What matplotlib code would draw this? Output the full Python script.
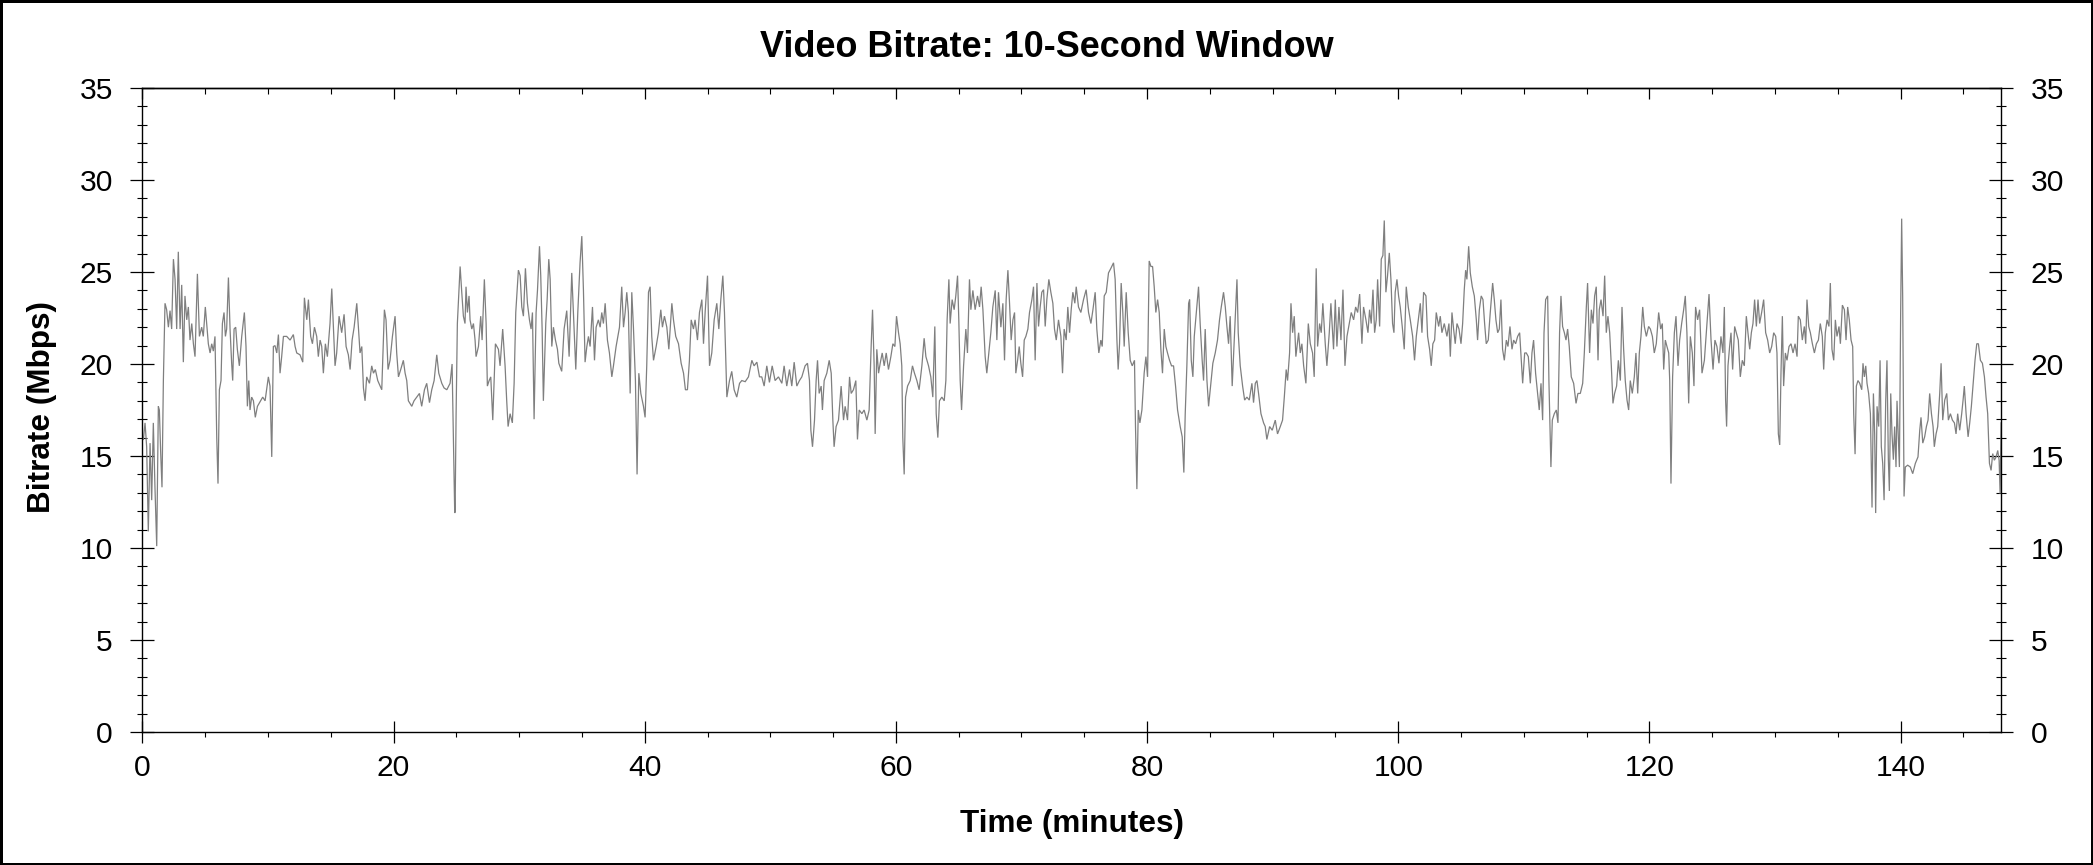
import numpy as np
import matplotlib
matplotlib.use("Agg")
import matplotlib.pyplot as plt
from matplotlib.ticker import MultipleLocator

# ---- data (time in minutes, bitrate in Mbps) ----
seg1_time = [0.08, 0.21, 0.34, 0.47, 0.61, 0.74, 0.87, 1.00, 1.14, 1.27, 1.35, 1.46, 1.56, 1.67, 1.80,
             1.93, 2.07, 2.20, 2.33, 2.47, 2.60, 2.73, 2.86, 3.00, 3.13, 3.26, 3.39, 3.53, 3.66, 3.79,
             3.93, 4.06, 4.19, 4.38, 4.54, 4.72, 4.85, 5.01, 5.25, 5.39, 5.52, 5.65, 5.78, 5.92, 6.02,
             6.13, 6.26, 6.37, 6.50, 6.61, 6.71, 6.85, 6.98, 7.11, 7.19, 7.30, 7.43, 7.56, 7.72, 7.91,
             8.12, 8.25, 8.36, 8.47, 8.57, 8.70, 8.84, 8.99, 9.16, 9.37, 9.58, 9.77, 10.03, 10.16, 10.30,
             10.43, 10.56, 10.70, 10.83, 10.96, 11.09, 11.23, 11.49, 11.76, 12.02, 12.16, 12.29, 12.55, 12.77, 12.90,
             13.09, 13.22, 13.40, 13.54, 13.70, 13.88, 14.01, 14.15, 14.28, 14.41, 14.57, 14.73, 14.94, 15.08, 15.21,
             15.34, 15.47, 15.66, 15.87, 16.06, 16.22, 16.40, 16.54, 16.70, 16.86, 17.07, 17.20, 17.33, 17.47, 17.60,
             17.73, 17.86, 18.08, 18.26, 18.40, 18.55, 18.74, 18.93, 19.06, 19.27, 19.40, 19.56, 19.72, 19.91, 20.12,
             20.25, 20.39, 20.57, 20.78, 20.92, 21.05, 21.18, 21.45, 21.63, 21.85, 22.06, 22.24, 22.46, 22.64, 22.86,
             23.04, 23.23, 23.44, 23.60, 23.84, 24.02, 24.24, 24.50, 24.66, 24.79, 24.87]
seg1_rate = [15.9, 16.8, 15.5, 10.9, 15.7, 12.6, 16.8, 13.3, 10.1, 17.7, 17.5, 15.1, 13.3, 19.1, 23.3,
             22.95, 22.0, 22.9, 21.9, 25.7, 24.6, 21.9, 26.1, 21.9, 24.3, 20.1, 23.7, 22.4, 23.1, 21.3,
             22.2, 21.1, 20.4, 24.9, 21.5, 22.0, 21.5, 23.1, 21.1, 20.6, 21.1, 20.7, 21.5, 16.0, 13.5,
             18.6, 19.1, 22.2, 22.8, 21.5, 21.9, 24.7, 21.9, 20.0, 19.1, 21.9, 22.0, 20.8, 19.9, 21.5,
             22.8, 20.95, 17.7, 19.1, 17.5, 18.2, 18.0, 17.1, 17.7, 17.95, 18.2, 18.0, 19.3, 18.8, 14.95,
             20.95, 21.0, 20.6, 21.6, 19.5, 20.4, 21.5, 21.5, 21.3, 21.6, 20.95, 20.6, 20.5, 20.1, 23.6,
             22.4, 23.5, 21.5, 21.1, 22.0, 21.5, 20.4, 21.3, 20.95, 19.5, 21.1, 20.4, 22.2, 24.1, 22.0,
             19.9, 20.6, 22.6, 21.7, 22.7, 20.95, 20.5, 19.7, 21.3, 22.0, 23.3, 22.0, 20.6, 20.95, 18.7,
             18.0, 19.3, 18.95, 19.9, 19.5, 19.7, 19.1, 18.8, 18.6, 22.95, 22.4, 19.7, 20.2, 21.5, 22.6,
             20.6, 19.3, 19.7, 20.2, 19.5, 19.1, 18.0, 17.7, 18.0, 18.2, 18.4, 17.7, 18.6, 18.95, 17.9,
             18.6, 19.1, 20.5, 19.5, 18.95, 18.7, 18.6, 18.95, 20.0, 14.95, 11.9]

seg2_time = [24.90, 24.98, 25.08, 25.30, 25.43, 25.56, 25.69, 25.77, 25.88, 26.01, 26.09, 26.23, 26.36, 26.49, 26.57,
             26.76, 26.94, 27.05, 27.23, 27.37, 27.47, 27.61, 27.74, 27.90, 28.11, 28.35, 28.48, 28.69, 28.88, 29.01,
             29.12, 29.28, 29.46, 29.60, 29.73, 29.94, 30.08, 30.21, 30.34, 30.50, 30.66, 30.82, 30.95, 31.06, 31.19,
             31.35, 31.46, 31.62, 31.72, 31.83, 31.93, 32.12, 32.23, 32.36, 32.47, 32.60, 32.73, 32.89, 33.05, 33.16,
             33.39, 33.58, 33.79, 33.98, 34.19, 34.32, 34.51, 34.67, 34.85, 34.99, 35.12, 35.25, 35.39, 35.52, 35.65,
             35.84, 36.00, 36.13, 36.31, 36.45, 36.58, 36.71, 36.85, 37.03, 37.19, 37.38, 37.51, 37.72, 37.99, 38.17,
             38.31, 38.44, 38.57, 38.70, 38.84, 38.97, 39.10, 39.26, 39.39, 39.53, 39.69, 39.90, 40.03, 40.16, 40.30,
             40.43, 40.56, 40.70, 40.91, 41.09, 41.28, 41.41, 41.57, 41.76, 41.92, 42.16, 42.29, 42.47, 42.69, 42.90,
             43.09, 43.24, 43.40, 43.56, 43.70, 43.88, 44.01, 44.20, 44.36, 44.55, 44.68, 44.81, 45.00, 45.16, 45.34,
             45.53, 45.74, 45.90, 46.06, 46.22, 46.35, 46.54, 46.75, 46.93, 47.12, 47.33, 47.55, 47.73, 48.00, 48.26,
             48.53, 48.71, 48.93, 49.14, 49.32, 49.51]
seg2_rate = [12.0, 17.3, 22.2, 25.3, 23.9, 22.6, 22.2, 24.2, 22.8, 23.7, 22.4, 21.9, 22.2, 21.3, 20.4,
             20.95, 22.6, 21.3, 24.6, 22.2, 18.8, 19.1, 19.3, 16.95, 21.1, 20.8, 19.9, 21.9, 19.9, 18.0,
             16.6, 17.3, 16.8, 18.95, 22.8, 25.1, 24.8, 23.1, 22.6, 25.2, 23.3, 22.4, 21.9, 22.8, 17.0,
             22.8, 24.0, 26.4, 24.8, 21.9, 18.0, 22.2, 23.5, 25.7, 24.6, 20.95, 22.0, 21.3, 20.8, 20.04,
             19.6, 21.9, 22.9, 20.4, 24.95, 22.8, 19.7, 22.8, 25.5, 26.95, 24.0, 20.1, 20.95, 21.5, 20.95,
             23.1, 20.2, 22.0, 22.4, 22.0, 22.8, 22.2, 23.3, 21.3, 20.6, 19.3, 19.9, 20.95, 22.0, 24.2,
             22.0, 22.8, 23.9, 22.8, 18.4, 23.9, 22.0, 19.1, 14.0, 19.5, 18.4, 17.7, 17.1, 19.9, 23.9,
             24.2, 21.5, 20.2, 20.95, 21.7, 22.95, 22.0, 22.6, 22.0, 20.8, 23.3, 22.4, 21.5, 21.1, 20.04,
             19.5, 18.6, 18.6, 20.2, 22.4, 21.9, 22.4, 21.3, 22.8, 23.5, 21.1, 22.8, 24.8, 19.9, 20.6,
             22.4, 23.3, 21.9, 23.5, 24.8, 22.8, 18.2, 19.1, 19.6, 18.6, 18.2, 18.95, 19.1, 19.04, 19.3,
             20.2, 19.9, 20.1, 19.3, 19.3, 18.8]

seg3_time = [49.72, 49.93, 50.15, 50.38, 50.65, 50.92, 51.10, 51.31, 51.53, 51.71, 51.90, 52.11, 52.32, 52.51, 52.77,
             52.96, 53.12, 53.23, 53.36, 53.52, 53.65, 53.76, 53.89, 54.05, 54.15, 54.29, 54.50, 54.69, 54.85, 54.98,
             55.08, 55.24, 55.43, 55.64, 55.83, 55.96, 56.15, 56.31, 56.44, 56.62, 56.81, 56.94, 57.08, 57.29, 57.47,
             57.69, 57.87, 58.03, 58.14, 58.27, 58.35, 58.48, 58.62, 58.75, 58.91, 59.07, 59.23, 59.41, 59.60, 59.76,
             59.92, 60.05, 60.21, 60.34, 60.47, 60.55, 60.66, 60.77, 60.93, 61.14, 61.32, 61.48, 61.67, 61.85, 62.07,
             62.25, 62.39, 62.60, 62.78, 62.94, 63.10, 63.21, 63.34, 63.47, 63.66, 63.85, 63.98, 64.08, 64.22, 64.32,
             64.48, 64.64, 64.77, 64.91, 65.01, 65.12, 65.23, 65.39, 65.57, 65.70, 65.86, 65.97, 66.13, 66.31, 66.50,
             66.66, 66.79, 66.93, 67.11, 67.24, 67.40, 67.56, 67.72, 67.91, 68.04, 68.17, 68.36, 68.52, 68.65, 68.78,
             68.92, 69.05, 69.18, 69.32, 69.45, 69.55, 69.69, 69.82, 69.95, 70.09, 70.22, 70.35, 70.51, 70.64, 70.83,
             70.96, 71.09, 71.23, 71.36, 71.49, 71.62, 71.76, 71.89, 72.02, 72.18, 72.34, 72.50, 72.63, 72.77, 72.95,
             73.14, 73.27, 73.40, 73.56, 73.69, 73.83, 73.96, 74.09, 74.25]
seg3_rate = [19.9, 19.0, 19.9, 19.1, 19.3, 18.95, 19.9, 18.8, 19.7, 18.8, 20.1, 18.8, 19.1, 19.3, 19.9,
             20.04, 19.1, 16.4, 15.5, 16.95, 19.1, 20.2, 18.4, 18.8, 17.5, 19.1, 19.5, 20.2, 19.5, 16.95,
             15.5, 16.6, 16.95, 18.8, 16.95, 17.7, 16.95, 19.3, 18.4, 18.6, 19.1, 15.9, 17.5, 17.3, 17.5,
             16.95, 17.5, 20.95, 22.95, 19.9, 16.2, 20.8, 19.5, 20.04, 20.6, 19.9, 20.6, 19.7, 20.4, 21.1,
             20.95, 22.6, 21.7, 21.1, 19.9, 16.0, 14.0, 18.2, 18.8, 19.1, 19.9, 19.5, 19.1, 18.6, 19.9,
             21.4, 20.4, 19.9, 19.3, 18.2, 22.04, 17.3, 16.0, 18.0, 18.2, 18.0, 19.1, 22.4, 24.6, 22.2,
             23.5, 22.95, 23.7, 24.8, 22.4, 19.1, 17.5, 19.9, 21.9, 20.6, 24.6, 22.95, 24.0, 22.95, 23.7,
             23.1, 24.2, 22.95, 20.4, 19.5, 20.6, 21.7, 23.1, 24.0, 21.3, 23.9, 22.0, 23.3, 20.2, 23.5,
             25.1, 23.3, 21.3, 22.4, 22.8, 19.5, 20.2, 20.95, 20.04, 19.3, 21.3, 21.5, 21.9, 22.8, 23.5,
             24.2, 20.2, 24.4, 22.04, 23.1, 23.9, 24.04, 22.04, 23.5, 24.6, 23.9, 23.3, 21.9, 21.3, 22.4,
             21.5, 19.5, 21.9, 21.3, 23.1, 21.7, 22.95, 23.9, 23.3]

seg4_time = [74.36, 74.54, 74.73, 74.94, 75.15, 75.34, 75.53, 75.69, 75.87, 76.00, 76.16, 76.32, 76.43, 76.59, 76.75,
             76.93, 77.12, 77.33, 77.46, 77.60, 77.70, 77.81, 77.94, 78.07, 78.18, 78.34, 78.50, 78.66, 78.82, 79.00,
             79.08, 79.19, 79.30, 79.43, 79.59, 79.77, 79.91, 80.04, 80.17, 80.31, 80.44, 80.57, 80.70, 80.84, 80.97,
             81.10, 81.23, 81.37, 81.50, 81.63, 81.79, 81.95, 82.11, 82.27, 82.43, 82.64, 82.80, 82.93, 83.04, 83.17,
             83.31, 83.39, 83.52, 83.65, 83.76, 83.92, 84.10, 84.23, 84.39, 84.50, 84.63, 84.77, 84.90, 85.08, 85.24,
             85.43, 85.61, 85.77, 85.91, 86.09, 86.23, 86.36, 86.49, 86.62, 86.78, 86.94, 87.16, 87.26, 87.42, 87.61,
             87.77, 87.95, 88.14, 88.35, 88.48, 88.62, 88.75, 88.88, 89.07, 89.28, 89.41, 89.54, 89.76, 89.97, 90.21,
             90.39, 90.61, 90.79, 90.93, 91.08, 91.19, 91.35, 91.46, 91.59, 91.72, 91.85, 92.07, 92.20, 92.33, 92.47,
             92.65, 92.84, 93.00, 93.18, 93.31, 93.47, 93.58, 93.74, 93.87, 94.00, 94.19, 94.32, 94.51, 94.64, 94.85,
             94.99, 95.12, 95.28, 95.44, 95.60, 95.76, 95.92, 96.10, 96.26, 96.45, 96.61, 96.77, 96.93, 97.11, 97.24,
             97.43, 97.59, 97.72, 97.85, 97.99, 98.12, 98.25, 98.36, 98.52, 98.65, 98.78, 98.89]
seg4_rate = [24.2, 23.1, 22.8, 23.5, 24.04, 22.8, 22.2, 22.95, 23.9, 21.9, 20.6, 21.3, 20.95, 23.7, 23.9,
             24.95, 25.2, 25.5, 24.6, 21.3, 19.7, 21.1, 24.4, 22.8, 20.95, 23.9, 21.7, 20.2, 19.9, 20.2,
             16.6, 13.2, 17.5, 16.8, 17.5, 19.5, 20.4, 19.3, 25.6, 25.3, 25.3, 24.2, 22.8, 23.5, 22.8,
             20.8, 19.5, 21.9, 20.95, 20.6, 20.2, 19.9, 19.9, 18.8, 17.5, 16.6, 16.04, 14.1, 17.3, 19.9,
             23.3, 23.5, 20.2, 19.3, 21.5, 22.8, 24.2, 22.2, 20.2, 19.1, 21.9, 19.1, 17.7, 18.95, 20.04,
             20.6, 21.3, 22.4, 23.1, 23.9, 23.1, 22.04, 21.1, 22.6, 18.8, 21.3, 24.6, 21.7, 19.9, 18.8,
             18.04, 18.2, 18.04, 18.95, 17.9, 18.95, 19.1, 18.4, 17.3, 16.8, 16.6, 15.9, 16.6, 16.4, 16.95,
             16.2, 16.6, 16.95, 18.2, 19.7, 19.1, 20.6, 23.3, 21.7, 22.6, 20.4, 21.7, 20.6, 21.1, 19.9,
             18.95, 22.2, 21.1, 20.6, 19.3, 25.2, 20.95, 22.2, 21.7, 23.3, 21.1, 19.9, 21.7, 23.3, 20.8,
             23.5, 20.95, 23.1, 21.3, 24.04, 19.9, 21.5, 22.2, 22.8, 22.4, 23.1, 22.8, 23.8, 21.1, 23.1,
             22.4, 21.7, 22.95, 22.2, 24.04, 21.7, 22.4, 24.6, 22.04, 25.7, 25.9, 27.8]

seg5_time = [99.02, 99.15, 99.29, 99.42, 99.55, 99.66, 99.76, 99.90, 100.03, 100.16, 100.32, 100.48, 100.64, 100.80, 100.96,
             101.15, 101.30, 101.44, 101.60, 101.76, 101.89, 102.02, 102.21, 102.34, 102.50, 102.63, 102.76, 102.90, 103.03, 103.22,
             103.35, 103.48, 103.67, 103.88, 104.04, 104.15, 104.28, 104.41, 104.54, 104.68, 104.84, 105.00, 105.13, 105.26, 105.37,
             105.47, 105.61, 105.74, 105.90, 106.06, 106.22, 106.32, 106.46, 106.61, 106.75, 106.88, 107.01, 107.17, 107.33, 107.52,
             107.65, 107.78, 107.92, 108.05, 108.18, 108.31, 108.45, 108.61, 108.74, 108.90, 109.06, 109.19, 109.35, 109.51, 109.67,
             109.80, 109.91, 110.07, 110.20, 110.36, 110.52, 110.65, 110.78, 110.94, 111.10, 111.23, 111.37, 111.50, 111.61, 111.74,
             111.90, 112.00, 112.16, 112.27, 112.43, 112.59, 112.72, 112.85, 112.96, 113.09, 113.23, 113.36, 113.49, 113.62, 113.78,
             113.97, 114.16, 114.31, 114.50, 114.69, 114.82, 114.98, 115.08, 115.24, 115.38, 115.51, 115.64, 115.77, 115.91, 116.01,
             116.15, 116.31, 116.44, 116.57, 116.70, 116.84, 116.97, 117.10, 117.23, 117.39, 117.53, 117.69, 117.82, 117.95, 118.08,
             118.22, 118.35, 118.48, 118.64, 118.80, 118.93, 119.07, 119.20, 119.33, 119.47, 119.60, 119.76, 119.94, 120.08, 120.24,
             120.39, 120.55, 120.74, 120.90, 121.03, 121.14, 121.27, 121.40, 121.54, 121.62, 121.72, 121.85, 121.99, 122.12, 122.28,
             122.41, 122.57, 122.73, 122.86, 122.99, 123.13, 123.26, 123.42, 123.55, 123.63]
seg5_rate = [23.9, 24.8, 26.04, 24.6, 22.2, 21.7, 23.9, 24.6, 23.7, 23.1, 22.04, 20.8, 24.2, 23.1, 22.4,
             21.5, 20.2, 21.5, 22.4, 23.3, 21.7, 23.9, 23.7, 21.5, 20.8, 19.9, 21.1, 21.3, 22.8, 22.04,
             22.6, 21.7, 22.2, 21.5, 22.2, 20.4, 22.8, 21.9, 21.1, 22.2, 21.9, 21.1, 22.2, 24.04, 25.1,
             24.6, 26.4, 24.95, 24.2, 23.7, 22.4, 21.3, 22.95, 23.7, 23.5, 22.2, 21.1, 21.3, 22.8, 24.4,
             23.5, 22.4, 21.7, 21.9, 23.5, 20.8, 20.2, 21.3, 20.95, 22.04, 20.8, 21.3, 21.1, 21.5, 21.7,
             20.2, 18.95, 20.6, 20.6, 20.4, 18.95, 20.6, 21.3, 19.5, 18.4, 17.5, 18.95, 16.95, 21.7, 23.5,
             23.7, 19.1, 14.4, 16.95, 17.3, 17.5, 16.8, 21.7, 23.7, 22.04, 21.7, 21.3, 21.9, 20.95, 19.3,
             18.95, 17.86, 18.4, 18.4, 18.95, 20.6, 23.1, 24.4, 20.6, 22.95, 22.2, 23.7, 24.2, 20.2, 22.95,
             23.5, 22.6, 24.8, 21.7, 22.6, 21.7, 19.9, 17.86, 18.4, 18.8, 20.2, 19.1, 23.1, 20.8, 19.1,
             18.04, 17.5, 19.1, 18.4, 19.3, 20.6, 18.4, 20.6, 21.5, 23.1, 22.04, 21.5, 22.04, 21.9, 21.5,
             20.6, 21.1, 22.8, 21.9, 22.2, 19.7, 21.3, 20.95, 20.6, 19.1, 13.5, 19.3, 21.7, 22.6, 19.9,
             21.3, 22.2, 22.95, 23.7, 21.7, 17.86, 21.5, 20.6, 18.8, 21.7]

seg6_time = [123.68, 123.84, 124.00, 124.19, 124.38, 124.59, 124.75, 124.91, 125.07, 125.22, 125.38, 125.54, 125.70, 125.86, 125.97,
             126.07, 126.15, 126.26, 126.39, 126.50, 126.63, 126.79, 126.92, 127.08, 127.24, 127.40, 127.56, 127.72, 127.85, 127.99,
             128.12, 128.25, 128.38, 128.52, 128.65, 128.78, 128.94, 129.10, 129.26, 129.42, 129.58, 129.74, 129.90, 130.06, 130.16,
             130.27, 130.38, 130.48, 130.59, 130.69, 130.83, 130.96, 131.12, 131.28, 131.44, 131.60, 131.76, 131.86, 132.02, 132.18,
             132.34, 132.45, 132.55, 132.69, 132.82, 132.98, 133.14, 133.30, 133.46, 133.61, 133.77, 133.88, 134.01, 134.15, 134.30,
             134.41, 134.54, 134.68, 134.81, 134.94, 135.10, 135.21, 135.37, 135.53, 135.66, 135.79, 135.92, 136.06, 136.19, 136.27,
             136.38, 136.48, 136.61, 136.75, 136.91, 137.01, 137.12, 137.23, 137.33, 137.46, 137.60, 137.73, 137.84, 137.94, 138.02,
             138.13, 138.26, 138.37, 138.47, 138.58, 138.69, 138.82, 138.92, 139.03, 139.11, 139.22, 139.32, 139.43, 139.53, 139.64,
             139.72, 139.83, 139.91, 140.01, 140.09, 140.17, 140.28, 140.38, 140.57, 140.78, 140.97, 141.18, 141.39, 141.53, 141.63,
             141.77, 141.92, 142.06, 142.19, 142.32, 142.46, 142.59, 142.69, 142.83, 142.96, 143.12, 143.23, 143.36, 143.52, 143.68,
             143.81, 143.97, 144.13, 144.29, 144.42, 144.55, 144.71, 144.87, 144.98, 145.08, 145.22, 145.38, 145.51, 145.64, 145.77,
             145.93, 146.07, 146.20, 146.36, 146.52, 146.68, 146.81, 146.94, 147.08, 147.21, 147.34, 147.47, 147.61, 147.74, 147.85,
             147.93, 148.01]
seg6_rate = [23.1, 22.4, 22.95, 19.5, 20.2, 22.2, 23.8, 21.3, 19.7, 21.3, 20.95, 20.04, 21.5, 20.6, 23.1,
             18.04, 16.6, 19.9, 20.95, 21.7, 19.7, 22.04, 21.7, 21.3, 19.3, 20.2, 19.9, 22.6, 21.7, 20.8,
             21.7, 22.2, 23.5, 22.04, 23.5, 22.2, 22.8, 23.5, 21.7, 21.3, 20.6, 20.95, 21.7, 21.5, 20.6,
             16.2, 15.6, 19.5, 22.6, 18.8, 20.6, 20.2, 20.95, 21.1, 20.6, 21.1, 20.4, 22.6, 22.4, 21.3,
             22.04, 21.1, 23.5, 22.04, 21.7, 21.1, 20.6, 21.1, 21.3, 22.2, 21.5, 19.7, 21.7, 22.4, 22.04,
             24.4, 20.8, 20.2, 22.4, 21.5, 22.04, 21.1, 23.2, 22.95, 21.3, 23.1, 22.4, 21.3, 20.95, 17.3,
             15.1, 18.8, 19.1, 18.95, 18.6, 20.04, 19.3, 19.9, 18.95, 18.4, 17.3, 12.2, 18.4, 16.2, 11.9,
             17.7, 16.6, 20.2, 15.5, 14.6, 12.6, 18.0, 20.2, 14.8, 13.1, 18.4, 16.2, 14.8, 16.6, 14.4,
             18.0, 15.9, 14.4, 22.8, 27.9, 23.7, 12.8, 14.4, 14.5, 14.4, 14.04, 14.6, 14.95, 16.4, 17.1,
             15.7, 16.04, 16.6, 16.95, 18.4, 17.3, 16.6, 15.5, 16.2, 16.6, 18.4, 20.04, 16.95, 18.04, 18.4,
             16.95, 17.3, 16.95, 16.8, 16.2, 17.3, 16.4, 17.3, 18.04, 18.8, 17.3, 16.04, 16.8, 17.7, 18.8,
             20.2, 21.1, 21.1, 20.2, 20.04, 19.3, 18.2, 17.3, 14.6, 14.22, 15.13, 14.77, 14.95, 15.3, 14.77,
             12.95, 16.8]

x_major_step = 20
x_minor_step = 5
y_major_step = 5
y_minor_step = 1
x_limits = (0, 148)
y_limits = (0, 35)

title_text = "Video Bitrate: 10-Second Window"
x_label = "Time (minutes)"
y_label = "Bitrate (Mbps)"

time_min = np.concatenate([seg1_time, seg2_time, seg3_time, seg4_time, seg5_time, seg6_time])
bitrate = np.concatenate([seg1_rate, seg2_rate, seg3_rate, seg4_rate, seg5_rate, seg6_rate])

plt.rcParams["font.family"] = ["Liberation Sans", "DejaVu Sans"]

W, H = 2093, 865
fig = plt.figure(figsize=(W / 100, H / 100), dpi=100, facecolor="white",
                 edgecolor="black", linewidth=2.5)

ax_l, ax_r, ax_t, ax_b = 142.4, 2001.0, 88.0, 732.0
ax = fig.add_axes([ax_l / W, 1 - ax_b / H, (ax_r - ax_l) / W, (ax_b - ax_t) / H])

ax.plot(time_min, bitrate, color="#7f7f7f", lw=0.9, solid_joinstyle="miter")

ax.set_xlim(*x_limits)
ax.set_ylim(*y_limits)

for s in ax.spines.values():
    s.set_linewidth(1.0)
    s.set_color("black")

ax.xaxis.set_major_locator(MultipleLocator(x_major_step))
ax.xaxis.set_minor_locator(MultipleLocator(x_minor_step))
ax.yaxis.set_major_locator(MultipleLocator(y_major_step))
ax.yaxis.set_minor_locator(MultipleLocator(y_minor_step))

# y ticks: crossing the axis on both sides, labels left and right
ax.tick_params(axis="y", which="major", direction="inout", length=16.6, width=0.9,
               left=True, right=True, labelleft=True, labelright=True,
               labelsize=21.6, pad=13.0, colors="black")
ax.tick_params(axis="y", which="minor", direction="inout", length=7.6, width=0.8,
               left=True, right=True)
# bottom x ticks
ax.tick_params(axis="x", which="major", direction="inout", length=16.3, width=0.9,
               bottom=True, top=False, labelsize=21.6, pad=8.0)
ax.tick_params(axis="x", which="minor", direction="out", length=3.6, width=0.8,
               bottom=True, top=False)

# top x ticks pointing inward
sec = ax.secondary_xaxis("top")
sec.xaxis.set_major_locator(MultipleLocator(x_major_step))
sec.xaxis.set_minor_locator(MultipleLocator(x_minor_step))
sec.tick_params(axis="x", which="major", direction="in", length=7.9, width=0.9, labeltop=False)
sec.tick_params(axis="x", which="minor", direction="in", length=4.3, width=0.8)
sec.spines["top"].set_linewidth(1.0)

fig.text(0.5, 1 - 56.7 / H, title_text, ha="center", va="baseline",
         fontsize=25.9, fontweight="bold")
fig.text(((ax_l + ax_r) / 2) / W, 1 - 831.7 / H, x_label, ha="center", va="baseline",
         fontsize=22.7, fontweight="bold")
fig.text(50.0 / W, 1 - 407.0 / H, y_label, ha="center", va="baseline", rotation=90,
         rotation_mode="anchor", fontsize=22.7, fontweight="bold")

fig.savefig("out.png", dpi=100, facecolor="white", edgecolor="black")
